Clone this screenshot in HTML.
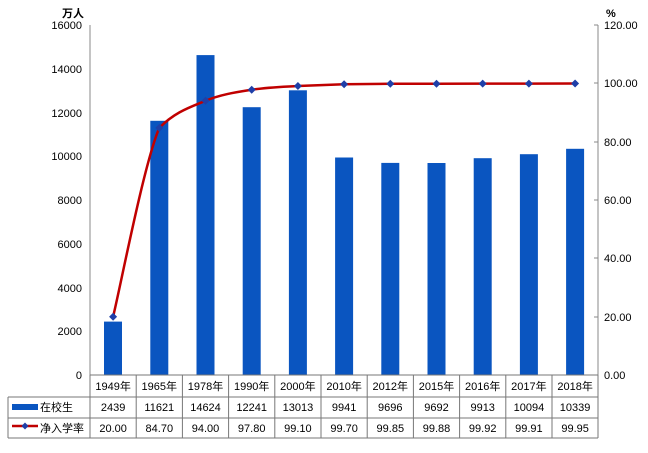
<!DOCTYPE html>
<html><head><meta charset="utf-8"><style>
body{margin:0;background:#fff;}
svg text{font-family:"Liberation Sans","Noto Sans CJK SC",sans-serif;font-size:11px;fill:#000;}
</style></head><body>
<svg width="648" height="448" viewBox="0 0 648 448" xmlns="http://www.w3.org/2000/svg">
<g text-anchor="end">
<text x="82" y="29">16000</text><text x="82" y="73">14000</text><text x="82" y="117">12000</text><text x="82" y="160">10000</text>
<text x="82" y="204">8000</text><text x="82" y="248">6000</text><text x="82" y="292">4000</text><text x="82" y="335">2000</text><text x="82" y="379">0</text>
</g>
<text x="62" y="17" font-weight="bold" style="font-weight:bold">万人</text>
<text x="606" y="17" font-weight="bold">%</text>
<g>
<text x="604" y="29">120.00</text><text x="604" y="87">100.00</text><text x="604" y="146">80.00</text><text x="604" y="204">60.00</text>
<text x="604" y="262">40.00</text><text x="604" y="321">20.00</text><text x="604" y="379">0.00</text>
</g>
<line x1="90" y1="25" x2="90" y2="375" stroke="#888"/>
<line x1="598" y1="25" x2="598" y2="375" stroke="#888"/>
<g stroke="#888"><line x1="594" y1="25" x2="598" y2="25"/><line x1="594" y1="83" x2="598" y2="83"/><line x1="594" y1="142" x2="598" y2="142"/><line x1="594" y1="200" x2="598" y2="200"/><line x1="594" y1="258" x2="598" y2="258"/><line x1="594" y1="317" x2="598" y2="317"/></g>
<g fill="#0a55c0">
<rect x="104" y="321.6" width="18" height="53.4"/>
<rect x="150.3" y="120.8" width="18" height="254.2"/>
<rect x="196.5" y="55.1" width="18" height="319.9"/>
<rect x="242.7" y="107.2" width="18" height="267.8"/>
<rect x="288.9" y="90.3" width="18" height="284.7"/>
<rect x="335.1" y="157.5" width="18" height="217.5"/>
<rect x="381.3" y="162.9" width="18" height="212.1"/>
<rect x="427.5" y="163" width="18" height="212"/>
<rect x="473.7" y="158.2" width="18" height="216.8"/>
<rect x="519.9" y="154.2" width="18" height="220.8"/>
<rect x="566.1" y="148.8" width="18" height="226.2"/>
</g>
<path d="M113.1,316.7 C120.8,285.2 143.9,163.9 159.3,127.9 C174.7,112 190.1,107.2 205.5,100.8 C220.9,94.4 236.3,92.2 251.7,89.75 C267.1,87.3 282.5,86.9 297.9,86 L344.1,84.2 L390.3,83.8 L436.5,83.7 L482.7,83.6 L528.9,83.6 L575.1,83.5" fill="none" stroke="#c00000" stroke-width="2.5"/>
<g fill="#1f3fa8">
<path d="M113.1,312.7l4,4l-4,4l-4,-4z"/><path d="M159.3,123.9l4,4l-4,4l-4,-4z"/><path d="M205.5,96.8l4,4l-4,4l-4,-4z"/><path d="M251.7,85.75l4,4l-4,4l-4,-4z"/><path d="M297.9,82l4,4l-4,4l-4,-4z"/><path d="M344.1,80.2l4,4l-4,4l-4,-4z"/><path d="M390.3,79.8l4,4l-4,4l-4,-4z"/><path d="M436.5,79.7l4,4l-4,4l-4,-4z"/><path d="M482.7,79.6l4,4l-4,4l-4,-4z"/><path d="M528.9,79.6l4,4l-4,4l-4,-4z"/><path d="M575.1,79.5l4,4l-4,4l-4,-4z"/>
</g>
<g stroke="#777" stroke-width="1">
<line x1="90" y1="375" x2="598" y2="375"/>
<line x1="8" y1="397" x2="598" y2="397"/>
<line x1="8" y1="418" x2="598" y2="418"/>
<line x1="8" y1="438" x2="598" y2="438"/>
<line x1="8" y1="397" x2="8" y2="438"/>
<line x1="90" y1="375" x2="90" y2="438"/><line x1="136.2" y1="375" x2="136.2" y2="438"/><line x1="182.4" y1="375" x2="182.4" y2="438"/><line x1="228.6" y1="375" x2="228.6" y2="438"/><line x1="274.8" y1="375" x2="274.8" y2="438"/><line x1="321" y1="375" x2="321" y2="438"/><line x1="367.2" y1="375" x2="367.2" y2="438"/><line x1="413.4" y1="375" x2="413.4" y2="438"/><line x1="459.6" y1="375" x2="459.6" y2="438"/><line x1="505.8" y1="375" x2="505.8" y2="438"/><line x1="552" y1="375" x2="552" y2="438"/><line x1="598" y1="375" x2="598" y2="438"/>
</g>
<g text-anchor="middle">
<text x="113.1" y="390">1949年</text><text x="159.3" y="390">1965年</text><text x="205.5" y="390">1978年</text><text x="251.7" y="390">1990年</text><text x="297.9" y="390">2000年</text><text x="344.1" y="390">2010年</text><text x="390.3" y="390">2012年</text><text x="436.5" y="390">2015年</text><text x="482.7" y="390">2016年</text><text x="528.9" y="390">2017年</text><text x="575.1" y="390">2018年</text>
<text x="113.1" y="411">2439</text><text x="159.3" y="411">11621</text><text x="205.5" y="411">14624</text><text x="251.7" y="411">12241</text><text x="297.9" y="411">13013</text><text x="344.1" y="411">9941</text><text x="390.3" y="411">9696</text><text x="436.5" y="411">9692</text><text x="482.7" y="411">9913</text><text x="528.9" y="411">10094</text><text x="575.1" y="411">10339</text>
<text x="113.1" y="432">20.00</text><text x="159.3" y="432">84.70</text><text x="205.5" y="432">94.00</text><text x="251.7" y="432">97.80</text><text x="297.9" y="432">99.10</text><text x="344.1" y="432">99.70</text><text x="390.3" y="432">99.85</text><text x="436.5" y="432">99.88</text><text x="482.7" y="432">99.92</text><text x="528.9" y="432">99.91</text><text x="575.1" y="432">99.95</text>
</g>
<rect x="12" y="404" width="26" height="6" fill="#0a55c0"/>
<text x="40" y="411">在校生</text>
<line x1="12" y1="426" x2="38" y2="426" stroke="#c00000" stroke-width="2.5"/>
<path d="M25,422.5l3.5,3.5l-3.5,3.5l-3.5,-3.5z" fill="#1f3fa8"/>
<text x="40" y="432">净入学率</text>
</svg>
</body></html>
